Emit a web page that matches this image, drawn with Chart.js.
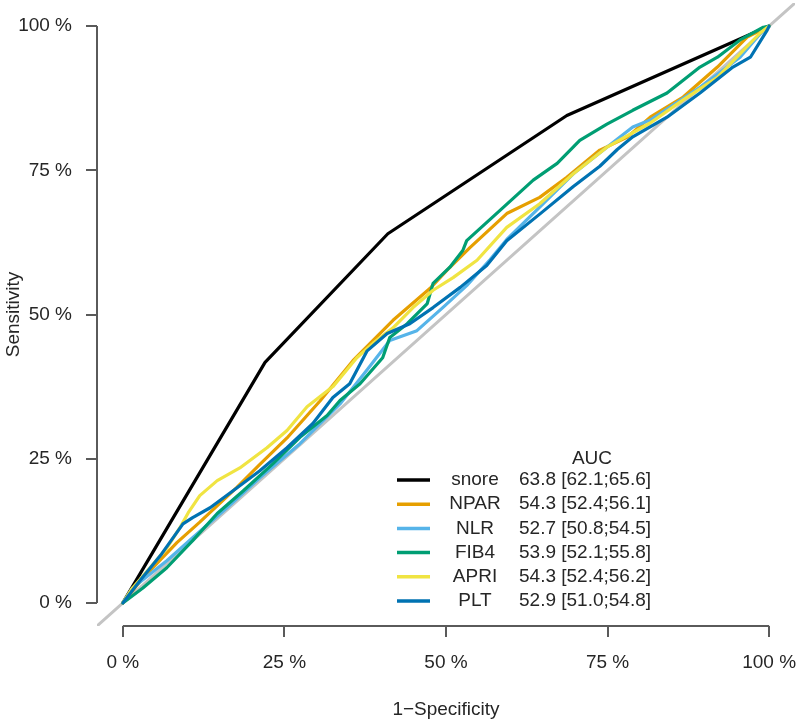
<!DOCTYPE html>
<html>
<head>
<meta charset="utf-8">
<script src="https://cdn.jsdelivr.net/npm/chart.js@4.4.1/dist/chart.umd.min.js"></script>
<style>
  html, body { margin: 0; background: #fff; }
</style>
</head>
<body>
<canvas id="roc" width="800" height="726"></canvas>
<script>
// Tick positions (percent) and axis titles.
const TICKS = [0, 25, 50, 75, 100];
const X_TITLE = "1\u2212Specificity";
const Y_TITLE = "Sensitivity";

// Legend rows: marker name and AUC [95% CI].
const NAMES = ["snore", "NPAR", "NLR", "FIB4", "APRI", "PLT"];
const AUC = [
  "63.8 [62.1;65.6]",
  "54.3 [52.4;56.1]",
  "52.7 [50.8;54.5]",
  "53.9 [52.1;55.8]",
  "54.3 [52.4;56.2]",
  "52.9 [51.0;54.8]",
];

// ROC points: false positive rate (x) and sensitivity (y), in %.
const snoreX = [0, 22, 41, 68.7, 100];
const snoreY = [0, 41.7, 64, 84.5, 100];

const nparX = [0, 2, 4.2, 8.4, 11.9, 17.6, 21.2, 25.4, 30.5, 35.6, 41.8, 47.5, 50.1, 53.7, 59.4, 64.5, 68.7, 73.8, 78, 81.6, 86.7, 92, 96.6, 100];
const nparY = [0, 2.8, 5.6, 10.5, 14, 20, 24, 28.6, 35, 42, 49, 54.5, 57.6, 61.6, 67.5, 70.3, 73.8, 78.5, 80.7, 84.2, 87.7, 92.9, 98.1, 100];

const nlrX = [0, 1.5, 6.8, 10.8, 16.1, 21.2, 27.4, 33.6, 37.5, 41.3, 45.5, 49.5, 53.2, 56.8, 59.4, 64.5, 69.7, 74.9, 78.9, 81.6, 89.3, 95.5, 99.1, 100];
const nlrY = [0, 2.6, 7.3, 11.3, 16.5, 21.7, 27.6, 34.5, 40, 45.5, 47.2, 51.2, 55, 59.5, 63, 68.6, 74.4, 79, 82.5, 83.7, 89.4, 94.6, 99.3, 100];

const fib4X = [0, 3.1, 6.8, 10.8, 14.6, 18.6, 23.2, 27.4, 31.6, 33.6, 36.7, 40.2, 41.3, 44, 47.1, 48, 50.6, 52.6, 53.2, 58.4, 63.5, 67.2, 70.7, 74.9, 78.9, 84.2, 89.3, 92, 95.5, 99.1, 100];
const fib4Y = [0, 2.6, 6.1, 10.8, 15.5, 19.4, 24.1, 28.7, 32.5, 35.1, 38, 42.5, 46, 48.4, 51.9, 55.4, 58.2, 61.1, 62.8, 68.1, 73.3, 76.2, 80.2, 83, 85.4, 88.4, 92.9, 94.6, 97.6, 99.8, 100];

const apriX = [0, 1.5, 4.2, 6.8, 8.8, 10.1, 11.9, 14.6, 18.1, 22.3, 25.4, 28.5, 32.5, 36.2, 38.7, 41.8, 44.9, 48, 51.1, 54.8, 59.4, 64.5, 69.7, 74.9, 81.6, 86.7, 92, 96, 98.6, 100];
const apriY = [0, 2.6, 6.1, 9.5, 13, 15.6, 18.6, 21.2, 23.4, 26.9, 29.9, 34, 37.5, 42.5, 45, 47.7, 51.2, 54.2, 56.4, 59.4, 65.1, 69.2, 74.4, 79, 83.2, 87.2, 91.1, 95.8, 98.8, 100];

const pltX = [0, 2.6, 6, 9.3, 10.8, 13.5, 17, 21.2, 25.4, 29.4, 32.5, 35.1, 37.8, 40.9, 44.4, 48, 52.2, 56.3, 59.4, 64.5, 69.7, 73.8, 76.5, 78.9, 84.2, 89.3, 94.4, 97.1, 99.7, 100];
const pltY = [0, 3.8, 8.5, 13.7, 14.8, 16.5, 19.4, 22.9, 26.9, 31.1, 35.6, 38, 43.7, 46.7, 48.4, 51.2, 54.7, 58.5, 62.8, 67.4, 72.2, 75.7, 78.6, 80.8, 84.2, 88.4, 92.9, 94.6, 99.3, 100];

// Chance diagonal, spanning the padded plot region.
const diagX = [-4, 104];
const diagY = [-4, 104];

const COLORS = ["#000000", "#E69F00", "#56B4E9", "#009E73", "#F0E442", "#0072B2"];
const SERIES = [
  [snoreX, snoreY],
  [nparX, nparY],
  [nlrX, nlrY],
  [fib4X, fib4Y],
  [apriX, apriY],
  [pltX, pltY],
];

const FONT = "'Liberation Sans', Arial, Helvetica, sans-serif";
const AXIS_COLOR = "#5a5a5a";
const TEXT_COLOR = "#262626";

function toPoints(xs, ys) {
  return xs.map((x, i) => ({ x, y: ys[i] }));
}

const datasets = [
  {
    label: "chance",
    data: toPoints(diagX, diagY),
    borderColor: "#c4c4c4",
    borderWidth: 3,
    order: 20,
  },
  ...SERIES.map(([xs, ys], i) => ({
    label: NAMES[i],
    data: toPoints(xs, ys),
    borderColor: COLORS[i],
    borderWidth: 3.2,
    // later series are painted on top, like R's lines() calls
    order: SERIES.length - i,
  })),
];

// R-style detached axes plus the AUC legend.
const rocDecor = {
  id: "rocDecor",
  afterDraw(chart) {
    const { ctx, scales: { x, y } } = chart;
    ctx.save();
    ctx.strokeStyle = AXIS_COLOR;
    ctx.lineWidth = 2;
    ctx.beginPath();
    ctx.moveTo(x.getPixelForValue(0), x.top);
    ctx.lineTo(x.getPixelForValue(100), x.top);
    ctx.moveTo(y.right, y.getPixelForValue(0));
    ctx.lineTo(y.right, y.getPixelForValue(100));
    ctx.stroke();

    // legend
    ctx.font = "19px " + FONT;
    ctx.fillStyle = TEXT_COLOR;
    ctx.textBaseline = "middle";
    ctx.textAlign = "center";
    ctx.fillText("AUC", 592, 459);
    NAMES.forEach((name, i) => {
      const rowY = 480 + i * 24.2;
      ctx.strokeStyle = COLORS[i];
      ctx.lineWidth = 3.5;
      ctx.beginPath();
      ctx.moveTo(397, rowY);
      ctx.lineTo(430, rowY);
      ctx.stroke();
      ctx.textAlign = "center";
      ctx.fillText(name, 475, rowY);
      ctx.textAlign = "left";
      ctx.fillText(AUC[i], 519, rowY);
    });
    ctx.restore();
  },
};

function fixedTicks(scale) {
  scale.ticks = TICKS.map((v) => ({ value: v }));
}

// drop the label-overflow padding Chart.js adds, so the plot box is fixed
function noPad(scale) {
  scale.paddingTop = 0;
  scale.paddingBottom = 0;
  scale.paddingLeft = 0;
  scale.paddingRight = 0;
}

const axisCommon = {
  type: "linear",
  min: -4,
  max: 104,
  afterBuildTicks: fixedTicks,
  border: { display: false },
  grid: {
    drawOnChartArea: false,
    drawTicks: true,
    tickLength: 11,
    color: AXIS_COLOR,
    lineWidth: 2,
  },
};

new Chart(document.getElementById("roc"), {
  type: "scatter",
  data: { datasets },
  options: {
    responsive: false,
    animation: false,
    showLine: true,
    elements: {
      point: { radius: 0, hoverRadius: 0 },
      line: { tension: 0, borderCapStyle: "round", borderJoinStyle: "round" },
    },
    layout: { padding: { left: 0, top: 3, right: 5, bottom: 0 } },
    plugins: {
      legend: { display: false },
      tooltip: { enabled: false },
    },
    scales: {
      x: {
        ...axisCommon,
        position: "bottom",
        afterFit: (scale) => { scale.height = 100; noPad(scale); },
        ticks: {
          color: TEXT_COLOR,
          font: { family: FONT, size: 19 },
          padding: 14,
          maxRotation: 0,
          callback: (v) => v + " %",
        },
        title: {
          display: true,
          text: X_TITLE,
          color: TEXT_COLOR,
          font: { family: FONT, size: 19 },
          padding: { top: 0, bottom: 5 },
        },
      },
      y: {
        ...axisCommon,
        position: "left",
        afterFit: (scale) => { scale.width = 97; noPad(scale); },
        ticks: {
          color: TEXT_COLOR,
          font: { family: FONT, size: 19 },
          padding: 14,
          callback: (v) => v + " %",
        },
        title: {
          display: true,
          text: Y_TITLE,
          color: TEXT_COLOR,
          font: { family: FONT, size: 19 },
          padding: { top: 2, bottom: 0 },
        },
      },
    },
  },
  plugins: [rocDecor],
});
</script>
</body>
</html>
